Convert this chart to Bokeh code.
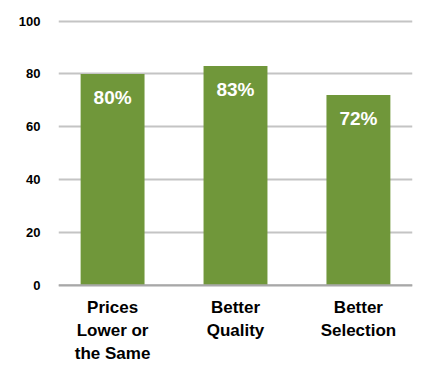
from bokeh.plotting import figure
from bokeh.models import ColumnDataSource, FixedTicker, Range1d, FactorRange, Span
from bokeh.core.properties import value
from bokeh.embed import file_html
from bokeh.resources import INLINE

categories = ["Prices Lower or the Same", "Better Quality", "Better Selection"]
label_line1 = ["Prices", "Better", "Better"]
label_line2 = ["Lower or", "Quality", "Selection"]
label_line3 = ["the Same", "", ""]
values = [80, 83, 72]
labels = ["80%", "83%", "72%"]
y_ticks = [0, 20, 40, 60, 80, 100]

FONT = "Liberation Sans"
GREEN = "#70973a"

src = ColumnDataSource(dict(cat=categories, val=values, lab=labels, zero=[0, 0, 0],
                            l1=label_line1, l2=label_line2, l3=label_line3))

p = figure(width=439, height=366,
           x_range=FactorRange(factors=categories, range_padding=-0.04),
           y_range=Range1d(-30.7, 100.6),
           output_backend="svg", toolbar_location=None,
           min_border_left=58, min_border_right=27, min_border_top=19, min_border_bottom=0)
p.outline_line_color = None
p.background_fill_color = "white"
p.border_fill_color = "white"

p.vbar(x="cat", top="val", width=0.52, source=src, fill_color=GREEN, line_color=None)
p.text(x="cat", y="val", text="lab", source=src, text_color="white",
       text_font=value(FONT), text_font_style="bold", text_font_size="19px",
       text_align="center", text_baseline="top", y_offset=13)

for col, off in (("l1", 22), ("l2", 45), ("l3", 68)):
    p.text(x="cat", y="zero", text=col, source=src, y_offset=off,
           text_font=value(FONT), text_font_style="bold", text_font_size="17px",
           text_color="black", text_align="center", text_baseline="middle")

p.add_layout(Span(location=0, dimension="width", line_color="#a8a8a8", line_width=2))

p.xaxis.visible = False
p.xgrid.grid_line_color = None
p.ygrid.grid_line_color = "#c4c4c4"
p.ygrid.grid_line_width = 2
p.yaxis.ticker = FixedTicker(ticks=y_ticks)

p.yaxis.axis_line_color = None
p.yaxis.major_tick_line_color = None
p.yaxis.minor_tick_line_color = None
p.yaxis.major_label_standoff = 12
p.yaxis.major_label_text_font = FONT
p.yaxis.major_label_text_font_style = "bold"
p.yaxis.major_label_text_font_size = "13px"
p.yaxis.major_label_text_color = "black"

open("out.html", "w").write(file_html(p, INLINE))
